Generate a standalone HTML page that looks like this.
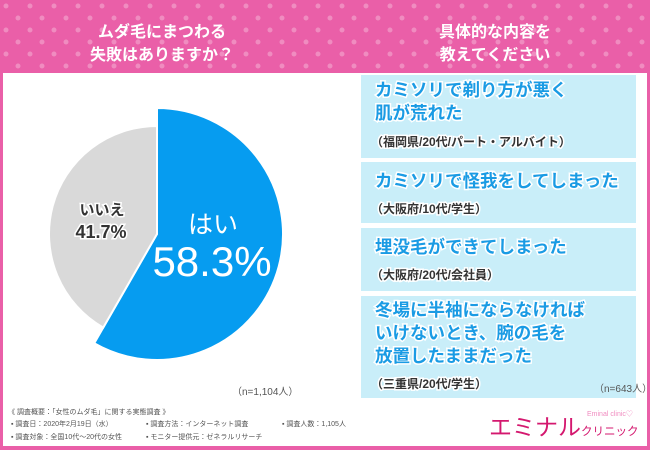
<!DOCTYPE html>
<html><head><meta charset="utf-8">
<style>
body{margin:0;width:650px;height:450px;overflow:hidden;font-family:"Liberation Sans","Noto Sans CJK JP",sans-serif;}
#root{position:relative;width:650px;height:450px;background:#ea5fa8;}
.hdr{position:absolute;left:0;top:0;width:650px;height:73px;}
.title{position:absolute;top:21px;width:260px;text-align:center;color:#fff;font-weight:bold;font-size:16px;line-height:23px;}
.main{position:absolute;left:3px;top:73px;width:644px;height:373px;background:#fff;}
.box{position:absolute;left:361px;width:275px;background:#c9eef9;}
.bt{position:absolute;left:14px;color:#1a9be4;font-weight:bold;font-size:17.5px;line-height:23px;paint-order:stroke fill;-webkit-text-stroke:3px #fff;white-space:nowrap;}
.bs{position:absolute;left:10px;color:#333;font-weight:bold;font-size:12px;paint-order:stroke fill;-webkit-text-stroke:3px #fff;white-space:nowrap;}
.sm{position:absolute;font-size:7px;color:#555;white-space:nowrap;}
</style></head><body>
<div id="root">
<svg class="hdr" width="650" height="73">
<defs><pattern id="dots" width="24" height="24" patternUnits="userSpaceOnUse"><circle cx="6" cy="6" r="2.5" fill="#f08cc0"/><circle cx="18" cy="18" r="2.5" fill="#f08cc0"/></pattern></defs>
<rect width="650" height="73" fill="#ea5fa8"/><rect width="650" height="73" fill="url(#dots)"/>
</svg>
<div class="title" style="left:32px">ムダ毛にまつわる<br>失敗はありますか？</div>
<div class="title" style="left:365px">具体的な内容を<br>教えてください</div>
<div class="main"></div>
<svg id="pie" style="position:absolute;left:0;top:0" width="360" height="400"></svg>
<div class="sm" style="left:232px;top:383px;font-size:10px">（n=1,104人）</div>

<div class="box" style="top:75px;height:83px">
<div class="bt" style="top:4px">カミソリで剃り方が悪く<br>肌が荒れた</div>
<div class="bs" style="top:58px">（福岡県/20代/パート・アルバイト）</div></div>
<div class="box" style="top:162px;height:61px">
<div class="bt" style="top:8px">カミソリで怪我をしてしまった</div>
<div class="bs" style="top:38px">（大阪府/10代/学生）</div></div>
<div class="box" style="top:228px;height:63px">
<div class="bt" style="top:8px">埋没毛ができてしまった</div>
<div class="bs" style="top:38px">（大阪府/20代/会社員）</div></div>
<div class="box" style="top:296px;height:102px">
<div class="bt" style="top:3px">冬場に半袖にならなければ<br>いけないとき、腕の毛を<br>放置したままだった</div>
<div class="bs" style="top:79px">（三重県/20代/学生）</div>
<div class="sm" style="left:233px;top:84px;font-size:10px">（n=643人）</div></div>

<div class="sm" style="left:8px;top:407px">《 調査概要：「女性のムダ毛」に関する実態調査 》</div>
<div class="sm" style="left:11px;top:419px">▪ 調査日：2020年2月19日（水）</div>
<div class="sm" style="left:146px;top:419px">▪ 調査方法：インターネット調査</div>
<div class="sm" style="left:282px;top:419px">▪ 調査人数：1,105人</div>
<div class="sm" style="left:11px;top:432px">▪ 調査対象：全国10代～20代の女性</div>
<div class="sm" style="left:146px;top:432px">▪ モニター提供元：ゼネラルリサーチ</div>
<div style="position:absolute;left:489px;top:408px;color:#d4186f;font-size:23px;white-space:nowrap">エミナル<span style="font-size:11.5px">クリニック</span></div>
<div style="position:absolute;left:587px;top:409px;color:#f08cc0;font-size:7px">Eminal clinic♡</div>
</div>
<script>
const categories=["はい","いいえ"];
const values=[58.3,41.7];
const labels=["58.3%","41.7%"];
const svg=document.getElementById('pie');
const NS='http://www.w3.org/2000/svg';
const cx=157,cy=234;
const radii=[126,108],colors=['#069cf0','#d9d9d9'];
const total=values.reduce((a,b)=>a+b,0);
function pt(a,r){return [cx+r*Math.sin(a),cy-r*Math.cos(a)];}
let start=0;
values.forEach((v,i)=>{
 const ang=v/total*2*Math.PI,end=start+ang,r=radii[i];
 const p1=pt(start,r),p2=pt(end,r);
 const path=document.createElementNS(NS,'path');
 path.setAttribute('d',`M${cx},${cy} L${p1[0]},${p1[1]} A${r},${r} 0 ${ang>Math.PI?1:0} 1 ${p2[0]},${p2[1]} Z`);
 path.setAttribute('fill',colors[i]);path.setAttribute('stroke','#fff');path.setAttribute('stroke-width','2');
 
 
 svg.appendChild(path);
 start=end;
});
function txt(x,y,s,size,fill,extra){const t=document.createElementNS(NS,'text');t.setAttribute('x',x);t.setAttribute('y',y);t.setAttribute('text-anchor','middle');t.setAttribute('font-size',size);t.setAttribute('fill',fill);t.setAttribute('font-family','"Liberation Sans","Noto Sans CJK JP",sans-serif');if(extra)for(const k in extra)t.setAttribute(k,extra[k]);t.textContent=s;svg.appendChild(t);return t;}
let t;
t=txt(213,233,categories[0],25,'#fff');


t=txt(212,276,labels[0],42,'#fff');


t=txt(102,215,categories[1],15,'#333',{'font-weight':'bold',stroke:'#fff','stroke-width':'3','paint-order':'stroke'});


t=txt(101,238,labels[1],18,'#333',{'font-weight':'bold',stroke:'#fff','stroke-width':'3','paint-order':'stroke'});


</script>
</body></html>
